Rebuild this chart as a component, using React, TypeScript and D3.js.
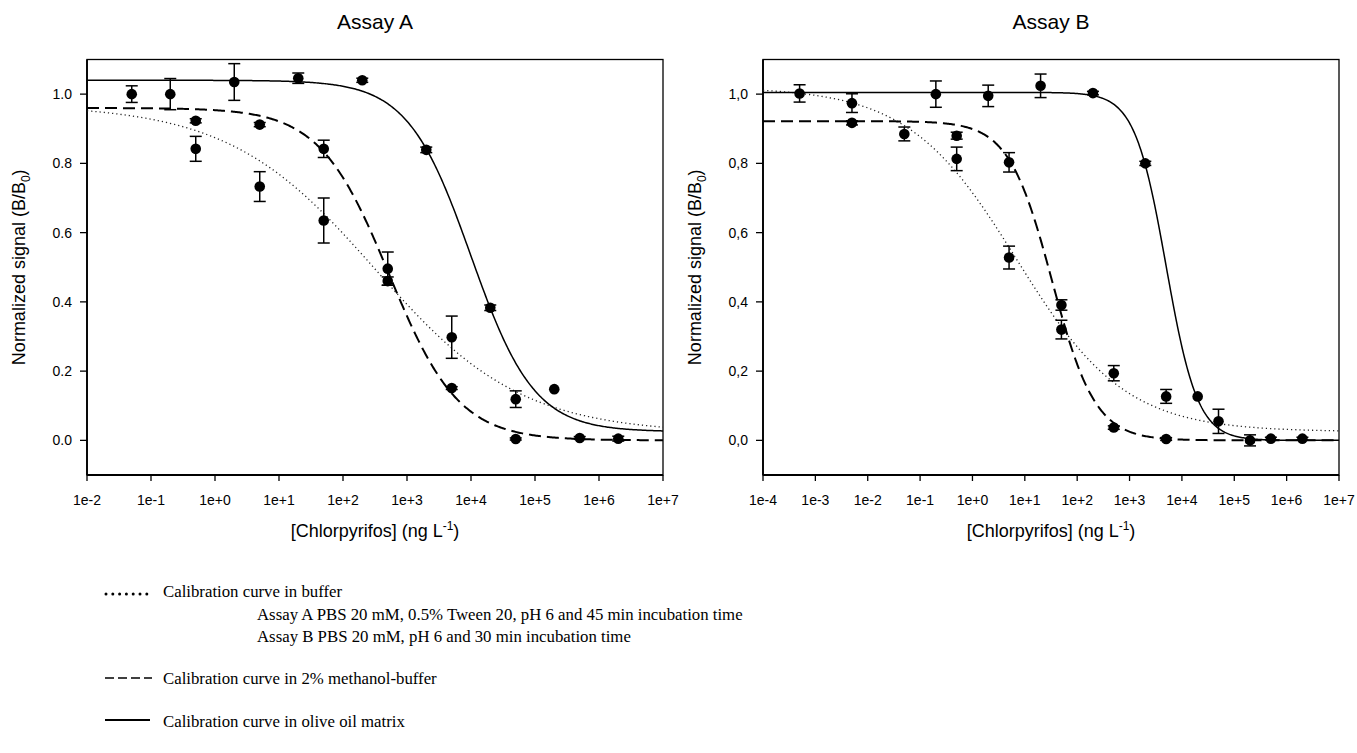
import React from "react";
import * as d3 from "d3";

// ---------- shared axis data ----------
const yTickValues = [0, 0.2, 0.4, 0.6, 0.8, 1.0];
const yTickLabelsA = ["0.0", "0.2", "0.4", "0.6", "0.8", "1.0"];
const yTickLabelsB = ["0,0", "0,2", "0,4", "0,6", "0,8", "1,0"];
const yDomain = [-0.1, 1.1];

const xTickValuesA = [1e-2, 1e-1, 1e0, 1e1, 1e2, 1e3, 1e4, 1e5, 1e6, 1e7];
const xTickLabelsA = ["1e-2", "1e-1", "1e+0", "1e+1", "1e+2", "1e+3", "1e+4", "1e+5", "1e+6", "1e+7"];
const xTickValuesB = [1e-4, 1e-3, 1e-2, 1e-1, 1e0, 1e1, 1e2, 1e3, 1e4, 1e5, 1e6, 1e7];
const xTickLabelsB = ["1e-4", "1e-3", "1e-2", "1e-1", "1e+0", "1e+1", "1e+2", "1e+3", "1e+4", "1e+5", "1e+6", "1e+7"];

// ---------- Assay A measured points ----------
const concOilA = [0.05, 0.2, 2, 20, 200, 2000, 20000, 200000, 2000000];
const meanOilA = [1.0, 1.0, 1.035, 1.046, 1.04, 0.839, 0.383, 0.148, 0.005];
const sdOilA = [0.024, 0.045, 0.053, 0.015, 0.006, 0.008, 0.008, 0, 0.007];

const concMethA = [0.5, 5, 50, 500, 5000, 50000, 500000];
const meanMethA = [0.923, 0.912, 0.842, 0.46, 0.151, 0.004, 0.007];
const sdMethA = [0.006, 0.006, 0.025, 0.012, 0.004, 0.003, 0.004];

const concBufA = [0.5, 5, 50, 500, 5000, 50000];
const meanBufA = [0.842, 0.733, 0.635, 0.496, 0.298, 0.119];
const sdBufA = [0.036, 0.043, 0.065, 0.048, 0.061, 0.024];

// ---------- Assay B measured points ----------
const concOilB = [0.0005, 0.2, 2, 20, 200, 2000, 20000, 200000, 2000000];
const meanOilB = [1.002, 1.0, 0.995, 1.024, 1.003, 0.8, 0.127, 0.0, 0.005];
const sdOilB = [0.025, 0.038, 0.031, 0.034, 0.005, 0.006, 0, 0.016, 0.004];

const concMethB = [0.005, 0.5, 5, 50, 500, 5000, 500000];
const meanMethB = [0.917, 0.88, 0.803, 0.391, 0.037, 0.004, 0.005];
const sdMethB = [0.006, 0.01, 0.028, 0.015, 0.005, 0.004, 0.004];

const concBufB = [0.005, 0.05, 0.5, 5, 50, 500, 5000, 50000];
const meanBufB = [0.974, 0.885, 0.813, 0.528, 0.32, 0.194, 0.127, 0.055];
const sdBufB = [0.027, 0.02, 0.034, 0.033, 0.027, 0.022, 0.02, 0.035];

// ---------- fitted 4-parameter logistic curves: [top, bottom, log10(IC50), slope] ----------
const fitOilA = [1.04, 0.025, 4.0, 0.88];
const fitMethA = [0.96, 0.0, 2.72, 0.8];
const fitBufA = [0.97, 0.02, 2.5, 0.38];
const fitOilB = [1.005, 0.0, 3.7, 1.45];
const fitMethB = [0.922, 0.0, 1.52, 1.05];
const fitBufB = [1.02, 0.025, 0.845, 0.42];

type Style = "dot" | "dash" | "solid";

const logistic = (f: number[], c: number) =>
  f[1] + (f[0] - f[1]) / (1 + Math.pow(c / Math.pow(10, f[2]), f[3]));

const SANS = "'Liberation Sans', Arial, Helvetica, sans-serif";
const SERIF = "'Liberation Serif', 'Times New Roman', serif";

const TOP = 59.5;
const BOTTOM = 475;

function curveStyle(s: Style) {
  if (s === "dot") return { stroke: "#222", strokeWidth: 1.3, strokeDasharray: "1.2,3" };
  if (s === "dash") return { stroke: "#000", strokeWidth: 2, strokeDasharray: "12,6" };
  return { stroke: "#000", strokeWidth: 1.5 };
}

interface SeriesDef {
  conc: number[];
  mean: number[];
  sd: number[];
  fit: number[];
  style: Style;
}

function Panel(props: {
  title: string;
  left: number;
  right: number;
  xTicks: number[];
  xLabels: string[];
  yLabels: string[];
  series: SeriesDef[];
}) {
  const { title, left, right, xTicks, xLabels, yLabels, series } = props;
  const xDomain = [xTicks[0], xTicks[xTicks.length - 1]];
  const x = d3.scaleLog().domain(xDomain).range([left, right]);
  const y = d3.scaleLinear().domain(yDomain).range([BOTTOM, TOP]);
  const lo = Math.log10(xDomain[0]);
  const hi = Math.log10(xDomain[1]);
  const steps = d3.range(0, 501).map((i) => lo + ((hi - lo) * i) / 500);
  const line = d3.line<[number, number]>();
  const cx = (left + right) / 2;
  const cy = (TOP + BOTTOM) / 2;

  return (
    <g>
      <text x={cx} y={29} textAnchor="middle" fontFamily={SANS} fontSize={21}>
        {title}
      </text>
      {/* frame */}
      <rect x={left} y={TOP} width={right - left} height={BOTTOM - TOP} fill="none" stroke="#000" strokeWidth={1.3} />
      <line x1={left} x2={left} y1={TOP} y2={BOTTOM} stroke="#000" strokeWidth={1.8} />
      <line x1={left} x2={right} y1={BOTTOM} y2={BOTTOM} stroke="#000" strokeWidth={2.2} />
      {/* y ticks */}
      {yTickValues.map((v, i) => (
        <g key={"y" + i}>
          <line x1={left - 7} x2={left} y1={y(v)} y2={y(v)} stroke="#000" strokeWidth={1.3} />
          <text x={left - 15} y={y(v) + 5} textAnchor="end" fontFamily={SANS} fontSize={14}>
            {yLabels[i]}
          </text>
        </g>
      ))}
      {/* x ticks */}
      {xTicks.map((v, i) => (
        <g key={"x" + i}>
          <line x1={x(v)} x2={x(v)} y1={BOTTOM} y2={BOTTOM + 6} stroke="#000" strokeWidth={1.3} />
          <text x={x(v)} y={505} textAnchor="middle" fontFamily={SANS} fontSize={14}>
            {xLabels[i]}
          </text>
        </g>
      ))}
      {/* axis labels */}
      <text x={cx} y={537} textAnchor="middle" fontFamily={SANS} fontSize={18}>
        [Chlorpyrifos] (ng L
        <tspan fontSize={12} dy={-7}>-1</tspan>
        <tspan dy={7}>)</tspan>
      </text>
      <text
        transform={`translate(${left - 62},${cy}) rotate(-90)`}
        textAnchor="middle"
        fontFamily={SANS}
        fontSize={18}
      >
        Normalized signal (B/B
        <tspan fontSize={12} dy={5}>0</tspan>
        <tspan dy={-5}>)</tspan>
      </text>
      {/* curves */}
      {series.map((s, k) => (
        <path
          key={"c" + k}
          d={line(steps.map((l) => [x(Math.pow(10, l)), y(logistic(s.fit, Math.pow(10, l)))]) as [number, number][]) || ""}
          fill="none"
          {...curveStyle(s.style)}
        />
      ))}
      {/* points with error bars */}
      {series.map((s, k) => (
        <g key={"p" + k}>
          {s.conc.map((c, i) => {
            const px = x(c);
            const m = s.mean[i];
            const e = s.sd[i];
            return (
              <g key={i}>
                {e > 0 && (
                  <g stroke="#000" strokeWidth={1.5}>
                    <line x1={px} x2={px} y1={y(m - e)} y2={y(m + e)} />
                    <line x1={px - 6} x2={px + 6} y1={y(m - e)} y2={y(m - e)} />
                    <line x1={px - 6} x2={px + 6} y1={y(m + e)} y2={y(m + e)} />
                  </g>
                )}
                <circle cx={px} cy={y(m)} r={5.3} fill="#000" />
              </g>
            );
          })}
        </g>
      ))}
    </g>
  );
}

export default function App() {
  const seriesA: SeriesDef[] = [
    { conc: concBufA, mean: meanBufA, sd: sdBufA, fit: fitBufA, style: "dot" },
    { conc: concMethA, mean: meanMethA, sd: sdMethA, fit: fitMethA, style: "dash" },
    { conc: concOilA, mean: meanOilA, sd: sdOilA, fit: fitOilA, style: "solid" },
  ];
  const seriesB: SeriesDef[] = [
    { conc: concBufB, mean: meanBufB, sd: sdBufB, fit: fitBufB, style: "dot" },
    { conc: concMethB, mean: meanMethB, sd: sdMethB, fit: fitMethB, style: "dash" },
    { conc: concOilB, mean: meanOilB, sd: sdOilB, fit: fitOilB, style: "solid" },
  ];
  const dots = d3.range(7);
  return (
    <svg
      width={1357}
      height={753}
      style={{ position: "absolute", left: 0, top: 0, background: "#fff" }}
    >
      <rect width={1357} height={753} fill="#fff" />
      <Panel title="Assay A" left={87} right={663} xTicks={xTickValuesA} xLabels={xTickLabelsA} yLabels={yTickLabelsA} series={seriesA} />
      <Panel title="Assay B" left={763} right={1339} xTicks={xTickValuesB} xLabels={xTickLabelsB} yLabels={yTickLabelsB} series={seriesB} />
      {/* legend */}
      <g fontFamily={SERIF} fontSize={16.8}>
        {dots.map((i) => (
          <circle key={i} cx={106 + i * 6.8} cy={594} r={1.5} fill="#000" />
        ))}
        <text x={163} y={597}>Calibration curve in buffer</text>
        <text x={257} y={620}>Assay A PBS 20 mM, 0.5% Tween 20, pH 6 and 45 min incubation time</text>
        <text x={257} y={642}>Assay B PBS 20 mM, pH 6 and 30 min incubation time</text>
        <line x1={105} x2={152} y1={678} y2={678} stroke="#000" strokeWidth={1.4} strokeDasharray="9,4" />
        <text x={163} y={684}>Calibration curve in 2% methanol-buffer</text>
        <line x1={105} x2={150} y1={720} y2={720} stroke="#000" strokeWidth={1.8} />
        <text x={163} y={727}>Calibration curve in olive oil matrix</text>
      </g>
    </svg>
  );
}
